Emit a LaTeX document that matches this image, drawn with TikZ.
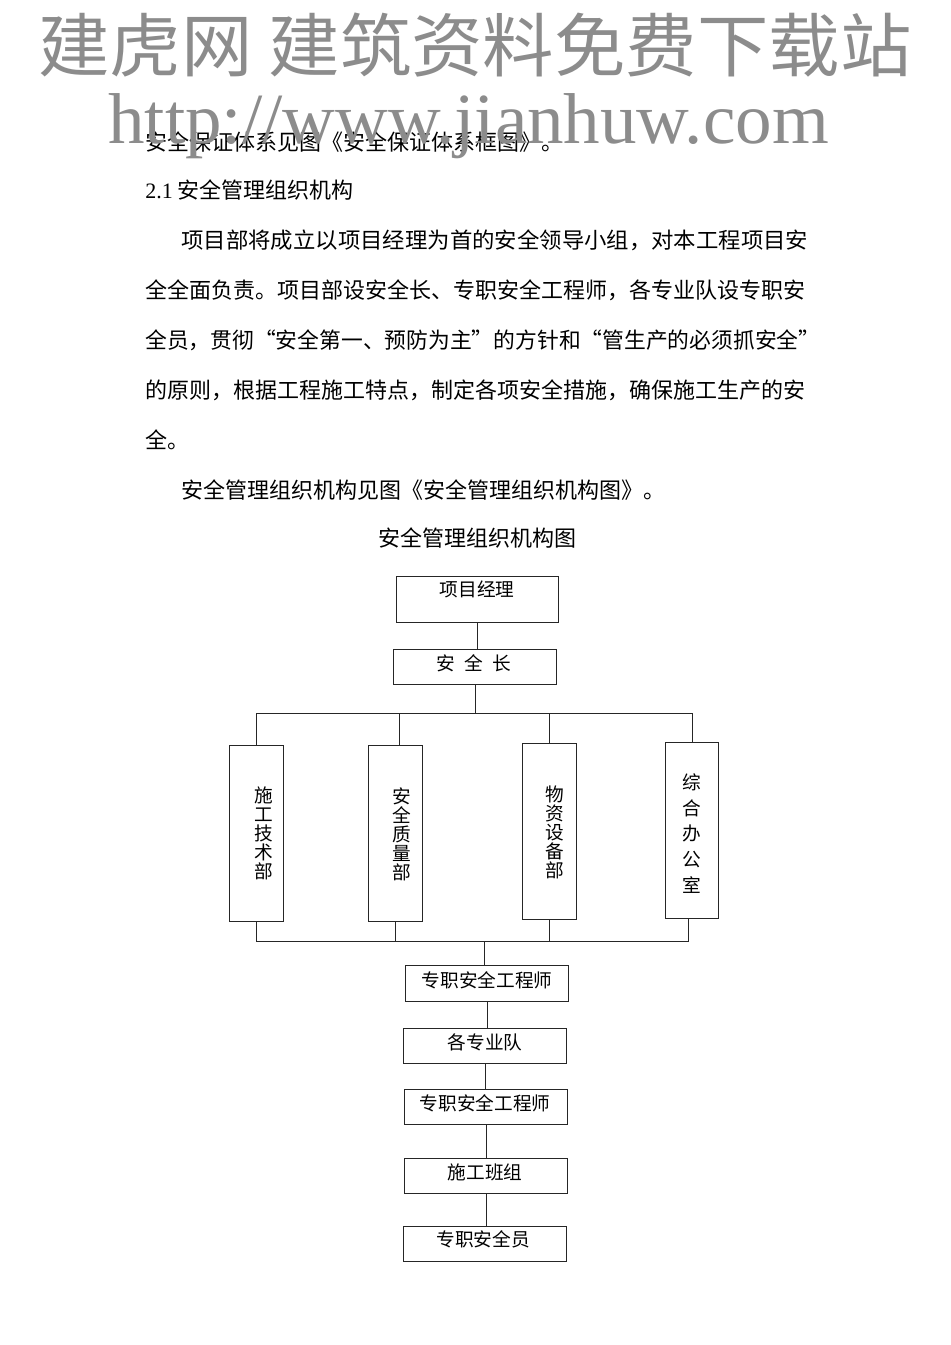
\documentclass[tikz,border=0pt]{standalone}
\usepackage{fontspec}
\setmainfont{Noto Sans CJK SC}
\newfontfamily\serifL{Liberation Serif}
\definecolor{wmgray}{RGB}{140,140,140}
\newcommand\chbox[5]{\node[box, minimum width={(#4-#2)*0.75pt}, minimum height={(#5-#3)*0.75pt}] (#1) at (#2,#3) {};}
\begin{document}
\begin{tikzpicture}[x=0.75pt,y=-0.75pt,
  box/.style={draw=black!85, line width=0.7pt, inner sep=0pt, anchor=north west},
  lbl/.style={font=\fontsize{14}{16}\selectfont, inner sep=0pt},
  vlbl/.style={font=\fontsize{14}{14.25}\selectfont, inner sep=0pt, align=center},
  body/.style={font=\fontsize{16.5}{20}\selectfont, anchor=west, inner sep=0pt},
  conn/.style={draw=black!85, line width=0.7pt},
  wm/.style={text=wmgray, inner sep=0pt}]
\fill[white] (0,0) rectangle (950,1345);
\useasboundingbox (0,0) rectangle (950,1345);

% body text
\node[body] (t0) at (145,142) {安全保证体系见图《安全保证体系框图》。};
\node[body] (t1) at (145,190) {{\serifL 2.1} 安全管理组织机构};
\node[body, xscale=1.018] (t2) at (181,240) {项目部将成立以项目经理为首的安全领导小组，对本工程项目安};
\node[body] (t3) at (145,290) {全全面负责。项目部设安全长、专职安全工程师，各专业队设专职安};
\node[body, xscale=0.99] (t4) at (145,340) {全员，贯彻“安全第一、预防为主”的方针和“管生产的必须抓安全”};
\node[body] (t5) at (145,390) {的原则，根据工程施工特点，制定各项安全措施，确保施工生产的安};
\node[body] (t6) at (145,440) {全。};
\node[body] (t7) at (181,490) {安全管理组织机构见图《安全管理组织机构图》。};
\node[body, anchor=center] (title) at (477,538) {安全管理组织机构图};

% boxes
\chbox{pm}{396}{576}{558}{622}
\chbox{aqz}{393}{649}{556}{684}
\chbox{d1}{229}{745}{283}{921}
\chbox{d2}{368}{745}{422}{921}
\chbox{d3}{522}{743}{576}{919}
\chbox{d4}{665}{742}{718}{918}
\chbox{e1}{405}{965}{568}{1001}
\chbox{e2}{403}{1028}{566}{1063}
\chbox{e3}{404}{1089}{567}{1124}
\chbox{e4}{404}{1158}{567}{1193}
\chbox{e5}{403}{1226}{566}{1261}

% labels
\node[lbl] (pmt) at (477,589) {项目经理};
\node[lbl] (aqzt) at (474,663) {安\hspace{7pt}全\hspace{7pt}长};
\node[vlbl] (d1t) at (264,833) {施\\工\\技\\术\\部};
\node[vlbl] (d2t) at (402,834) {安\\全\\质\\量\\部};
\node[vlbl] (d3t) at (555,832) {物\\资\\设\\备\\部};
\node[vlbl, font=\fontsize{14}{19.3}\selectfont] (d4t) at (692,833.5) {综\\合\\办\\公\\室};
\node[lbl] (e1t) at (487,980) {专职安全工程师};
\node[lbl] (e2t) at (485,1042) {各专业队};
\node[lbl] (e3t) at (485,1103) {专职安全工程师};
\node[lbl] (e4t) at (485,1172) {施工班组};
\node[lbl] (e5t) at (483,1239) {专职安全员};

% connectors
\coordinate (tb) at (0,713);
\coordinate (bb) at (0,941);
\draw[conn] (pm.south) -- (pm.south |- aqz.north);
\draw[conn] (aqz.south) -- (aqz.south |- tb);
\draw[conn] (d1.north |- tb) -- (d4.north |- tb);
\draw[conn] (d1.north |- tb) -- (d1.north);
\draw[conn] ([xshift=3pt]d2.north |- tb) -- ([xshift=3pt]d2.north);
\draw[conn] (d3.north |- tb) -- (d3.north);
\draw[conn] (d4.north |- tb) -- (d4.north);
\draw[conn] (d1.south) -- (d1.south |- bb);
\draw[conn] (d2.south) -- (d2.south |- bb);
\draw[conn] (d3.south) -- (d3.south |- bb);
\draw[conn] ([xshift=-2.5pt]d4.south) -- ([xshift=-2.5pt]d4.south |- bb);
\draw[conn] (d1.south |- bb) -- ([xshift=-2.5pt]d4.south |- bb);
\draw[conn] ([xshift=-2pt]e1.north |- bb) -- ([xshift=-2pt]e1.north);
\draw[conn] (e1.south) -- (e1.south |- e2.north);
\draw[conn] (e2.south) -- (e2.south |- e3.north);
\draw[conn] (e3.south) -- (e3.south |- e4.north);
\draw[conn] (e4.south) -- (e4.south |- e5.north);

% watermarks
\node[wm, font=\fontsize{52}{52}\selectfont, xscale=1.03] (wm1) at (475,45) {建虎网 建筑资料免费下载站};
\node[wm, font=\serifL\fontsize{54}{54}\selectfont, anchor=base west, xscale=1.014] (wm2) at (108,143) {http://www.jianhuw.com};
\end{tikzpicture}
\end{document}
